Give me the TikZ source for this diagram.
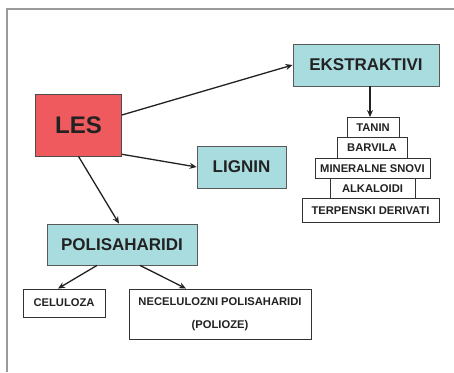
\documentclass[tikz,border=0pt]{standalone}
\usepackage{fontspec}
\setmainfont{Liberation Sans}
\usetikzlibrary{arrows.meta}
\definecolor{lesred}{HTML}{EE5A5E}
\definecolor{cyanbox}{HTML}{A9DCDF}
\definecolor{framegray}{HTML}{9A9A9A}
\definecolor{inkdark}{HTML}{222222}
\tikzset{
  basebox/.style={rectangle, inner sep=0pt, text=inkdark, font=\bfseries},
  redbox/.style={basebox, fill=lesred, draw=black!70, line width=0.8pt, font=\bfseries\fontsize{24}{28}\selectfont},
  bluebox/.style={basebox, fill=cyanbox, draw=black!65, line width=0.8pt, font=\bfseries\fontsize{17}{20}\selectfont},
  whitebox/.style={basebox, fill=white, draw=black!80, line width=0.9pt, font=\bfseries\fontsize{11.2}{23}\selectfont},
  arr/.style={draw=inkdark, line width=1.3pt, -{Stealth[length=7pt,width=6pt]}},
}
\begin{document}
\begin{tikzpicture}[x=1pt,y=-1pt]
\useasboundingbox (0,0) rectangle (454,372);
\fill[white] (0,0) rectangle (454,372);
\draw[framegray, line width=2.2pt] (7,372) -- (7,9) -- (454,9);

\node[redbox, minimum width=86pt, minimum height=62pt] (les) at (78.5,125) {LES};
\node[bluebox, minimum width=146pt, minimum height=42pt] (eks) at (366,65) {EKSTRAKTIVI};
\node[bluebox, minimum width=89pt, minimum height=42pt] (lignin) at (241.5,167) {LIGNIN};
\node[bluebox, minimum width=150pt, minimum height=41pt] (poli) at (122,244.5) {POLISAHARIDI};

\node[whitebox, minimum width=82pt, minimum height=28pt] (cel) at (64,303) {CELULOZA};
\node[whitebox, minimum width=182pt, minimum height=50pt, align=center] (nec) at (220,314) {NECELULOZNI POLISAHARIDI\\(POLIOZE)};

\node[whitebox, minimum width=52pt, minimum height=20pt] (tanin) at (373,127.5) {TANIN};
\node[whitebox, minimum width=70pt, minimum height=21pt] (barvila) at (372,148) {BARVILA};
\node[whitebox, minimum width=115pt, minimum height=20pt] (min) at (372.5,168.5) {MINERALNE SNOVI};
\node[whitebox, minimum width=85pt, minimum height=20pt] (alk) at (372.5,188.5) {ALKALOIDI};
\node[whitebox, minimum width=137pt, minimum height=24pt] (terp) at (370.5,210.5) {TERPENSKI DERIVATI};

\draw[arr] (les.13) -- (eks.west);
\draw[arr] (les.-34) -- (lignin.west);
\draw[arr] (les.south) -- ([xshift=-3pt]poli.north);
\draw[arr] ([xshift=4pt]eks.south) -- ([xshift=-3pt]tanin.north);
\draw[arr] ([xshift=-25pt]poli.south) -- ([xshift=-6pt]cel.north);
\draw[arr] ([xshift=18pt]poli.south) -- ([xshift=-34pt]nec.north);
\end{tikzpicture}
\end{document}
